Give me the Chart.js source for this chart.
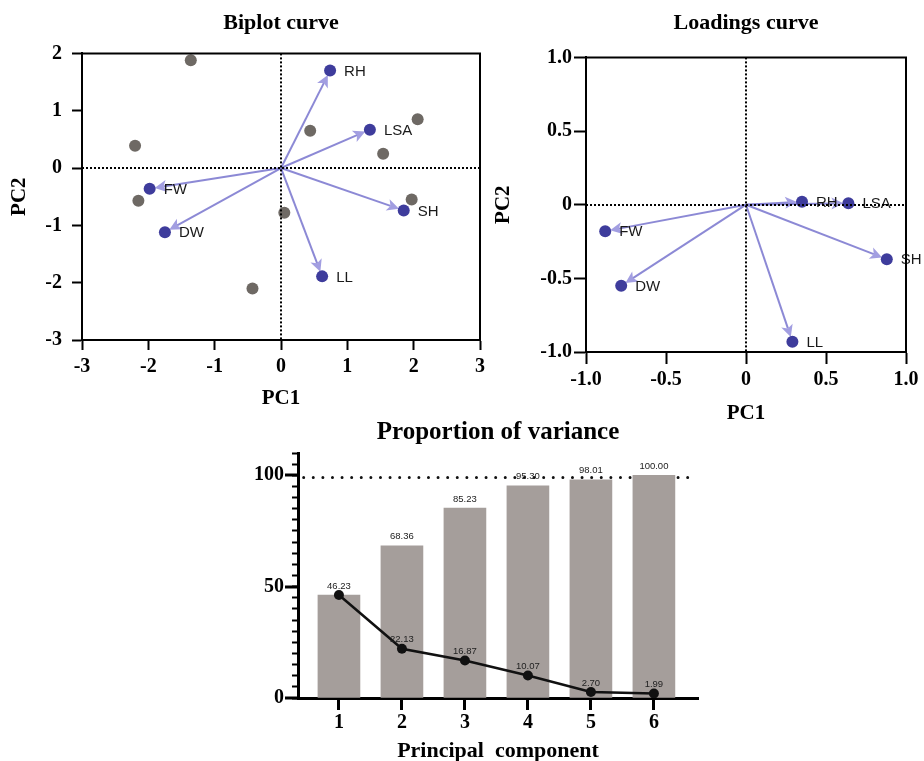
<!DOCTYPE html>
<html><head><meta charset="utf-8">
<script src="https://cdn.jsdelivr.net/npm/chart.js@4.4.0/dist/chart.umd.min.js"></script>
<style>
html,body{margin:0;padding:0;background:#fff;width:924px;height:761px;overflow:hidden;}
canvas{position:absolute;}
</style></head><body>
<canvas id="biplot" width="500" height="420" style="left:0px;top:0px;width:500px;height:420px"></canvas>
<canvas id="loadings" width="439" height="430" style="left:485px;top:0px;width:439px;height:430px"></canvas>
<canvas id="variance" width="480" height="351" style="left:240px;top:410px;width:480px;height:351px"></canvas>
<script>
// ---------- data ----------
const variables = ['RH', 'LSA', 'FW', 'DW', 'SH', 'LL'];
const biplotVarPC1 = [0.74, 1.34, -1.98, -1.75, 1.85, 0.62];
const biplotVarPC2 = [1.70, 0.67, -0.36, -1.12, -0.74, -1.89];
const scoresPC1 = [-1.36, -2.20, -2.15, 0.44, 0.05, -0.43, 2.06, 1.54, 1.97];
const scoresPC2 = [1.88, 0.39, -0.57, 0.65, -0.78, -2.10, 0.85, 0.25, -0.55];
const loadPC1 = [0.35, 0.64, -0.88, -0.78, 0.88, 0.29];
const loadPC2 = [0.02, 0.01, -0.18, -0.55, -0.37, -0.93];
const components = [1, 2, 3, 4, 5, 6];
const cumulative = [46.23, 68.36, 85.23, 95.30, 98.01, 100.00];
const proportion = [46.23, 22.13, 16.87, 10.07, 2.70, 1.99];
const thresholdX = [0.44, 6.6];
const thresholdY = 99;
const biplotTicksX = [-3, -2, -1, 0, 1, 2, 3];
const biplotTicksY = [-3, -2, -1, 0, 1, 2];
const loadTicks = [-1.0, -0.5, 0, 0.5, 1.0];
const varMajorTicks = [0, 50, 100];

const SERIF = "'Liberation Serif', 'Times New Roman', serif";
const SANS = "'Liberation Sans', Arial, sans-serif";
const BLUE = '#3e3c9c';
const GRAY = '#6e6964';

function pts(xs, ys) { return xs.map((v, i) => ({x: v, y: ys[i]})); }
function fixSize(prop, val) {
  return s => { s[prop] = val; s.paddingLeft = 0; s.paddingRight = 0; s.paddingTop = 0; s.paddingBottom = 0; };
}
function setTicks(list) { return s => { s.ticks = list.map(v => ({value: v})); }; }

// ---------- PCA plugin (arrows, labels, frame, zero lines) ----------
const pcaPlugin = {
  id: 'pca',
  beforeDatasetsDraw(chart, args, opts) {
    const {ctx, scales: {x, y}} = chart;
    const ox = x.getPixelForValue(0), oy = y.getPixelForValue(0);
    const ds = chart.data.datasets[opts.arrowDataset];
    ctx.save();
    ds.data.forEach(p => {
      const px = x.getPixelForValue(p.x), py = y.getPixelForValue(p.y);
      const dx = px - ox, dy = py - oy, len = Math.hypot(dx, dy);
      const ux = dx / len, uy = dy / len;
      const tipx = px - ux * 5, tipy = py - uy * 5;
      const hl = 12, hw = 6;
      const bx = tipx - ux * hl, by = tipy - uy * hl;
      ctx.strokeStyle = 'rgba(128,124,208,0.9)';
      ctx.lineWidth = 2;
      ctx.beginPath(); ctx.moveTo(ox, oy); ctx.lineTo(bx + ux * 3, by + uy * 3); ctx.stroke();
      ctx.fillStyle = 'rgba(152,148,222,0.9)';
      ctx.beginPath();
      ctx.moveTo(tipx, tipy);
      ctx.lineTo(bx - uy * hw, by + ux * hw);
      ctx.lineTo(bx + ux * 3, by + uy * 3);
      ctx.lineTo(bx + uy * hw, by - ux * hw);
      ctx.closePath(); ctx.fill();
    });
    ctx.restore();
  },
  afterDatasetsDraw(chart, args, opts) {
    const {ctx, chartArea: a, scales: {x, y}} = chart;
    const ds = chart.data.datasets[opts.arrowDataset];
    ctx.save();
    ctx.font = '15px ' + SANS;
    ctx.fillStyle = '#1a1a1a';
    ctx.textAlign = 'left';
    ctx.textBaseline = 'middle';
    ds.data.forEach((p, i) => {
      ctx.fillText(variables[i], x.getPixelForValue(p.x) + 14, y.getPixelForValue(p.y) + 1);
    });
    // zero lines
    ctx.strokeStyle = '#000';
    ctx.lineWidth = 2;
    ctx.setLineDash([2, 2]);
    const zx = Math.round(x.getPixelForValue(0)), zy = Math.round(y.getPixelForValue(0));
    ctx.beginPath(); ctx.moveTo(zx, a.top); ctx.lineTo(zx, a.bottom); ctx.stroke();
    ctx.beginPath(); ctx.moveTo(a.left, zy); ctx.lineTo(a.right, zy); ctx.stroke();
    ctx.setLineDash([]);
    // frame top & right
    ctx.lineWidth = 2;
    ctx.beginPath(); ctx.moveTo(a.left - 1, a.top); ctx.lineTo(a.right, a.top); ctx.lineTo(a.right, a.bottom + 1); ctx.stroke();
    ctx.restore();
  }
};

function axisCommon(tickLen, pad, size, cb) {
  return {
    grid: {drawOnChartArea: false, drawTicks: true, offset: false, tickLength: tickLen, tickColor: '#000', tickWidth: 2},
    border: {display: true, color: '#000', width: 2},
    ticks: {color: '#000', padding: pad, font: {family: SERIF, size: size, weight: 'bold'}, callback: cb}
  };
}

// ---------- Biplot ----------
(function () {
  const X = axisCommon(10, 5, 20, v => String(v));
  const Y = axisCommon(10, 10, 20, v => String(v));
  new Chart(document.getElementById('biplot'), {
    type: 'scatter',
    data: {datasets: [
      {data: pts(scoresPC1, scoresPC2), backgroundColor: GRAY, borderWidth: 0, pointRadius: 6, pointHoverRadius: 6},
      {data: pts(biplotVarPC1, biplotVarPC2), backgroundColor: BLUE, borderWidth: 0, pointRadius: 6, pointHoverRadius: 6}
    ]},
    options: {
      responsive: false, animation: false, devicePixelRatio: 1,
      layout: {padding: {left: 0, right: 20, top: 0, bottom: 0}},
      plugins: {
        legend: {display: false}, tooltip: {enabled: false},
        title: {display: true, text: 'Biplot curve', fullSize: false, color: '#000',
          font: {family: SERIF, size: 22, weight: 'bold'}, padding: {top: 10, bottom: 17}},
        pca: {arrowDataset: 1}
      },
      scales: {
        x: Object.assign(X, {type: 'linear', min: -3, max: 3,
          afterBuildTicks: setTicks(biplotTicksX), afterFit: fixSize('height', 80),
          title: {display: true, text: 'PC1', color: '#000', font: {family: SERIF, size: 21, weight: 'bold'}, padding: {top: 0, bottom: 9}}}),
        y: Object.assign(Y, {type: 'linear', min: -3, max: 2,
          afterBuildTicks: setTicks(biplotTicksY), afterFit: fixSize('width', 82),
          title: {display: true, text: 'PC2', color: '#000', font: {family: SERIF, size: 21, weight: 'bold'}, padding: {top: 7, bottom: 0}}})
      }
    },
    plugins: [pcaPlugin]
  });
})();

// ---------- Loadings ----------
(function () {
  const fmt = v => (v === 0 ? '0' : v.toFixed(1));
  const X = axisCommon(12, 4, 20, fmt);
  const Y = axisCommon(12, 2, 20, fmt);
  new Chart(document.getElementById('loadings'), {
    type: 'scatter',
    data: {datasets: [
      {data: pts(loadPC1, loadPC2), backgroundColor: BLUE, borderWidth: 0, pointRadius: 6, pointHoverRadius: 6}
    ]},
    options: {
      responsive: false, animation: false, devicePixelRatio: 1,
      layout: {padding: {left: 0, right: 18, top: 0, bottom: 0}},
      plugins: {
        legend: {display: false}, tooltip: {enabled: false},
        title: {display: true, text: 'Loadings curve', fullSize: false, color: '#000',
          font: {family: SERIF, size: 22, weight: 'bold'}, padding: {top: 10, bottom: 21}},
        pca: {arrowDataset: 0}
      },
      scales: {
        x: Object.assign(X, {type: 'linear', min: -1, max: 1,
          afterBuildTicks: setTicks(loadTicks), afterFit: fixSize('height', 78),
          title: {display: true, text: 'PC1', color: '#000', font: {family: SERIF, size: 21, weight: 'bold'}, padding: {top: 0, bottom: 4}}}),
        y: Object.assign(Y, {type: 'linear', min: -1, max: 1,
          afterBuildTicks: setTicks(loadTicks), afterFit: fixSize('width', 101),
          title: {display: true, text: 'PC2', color: '#000', font: {family: SERIF, size: 21, weight: 'bold'}, padding: {top: 6, bottom: 0}}})
      }
    },
    plugins: [pcaPlugin]
  });
})();

// ---------- Proportion of variance ----------
const variancePlugin = {
  id: 'varianceDeco',
  afterDatasetsDraw(chart) {
    const {ctx} = chart;
    ctx.save();
    ctx.font = '9.5px ' + SANS;
    ctx.fillStyle = '#222';
    ctx.textAlign = 'center';
    ctx.textBaseline = 'middle';
    const barMeta = chart.getDatasetMeta(1);
    barMeta.data.forEach((el, i) => ctx.fillText(cumulative[i].toFixed(2), el.x, el.y - 9));
    const lineMeta = chart.getDatasetMeta(2);
    lineMeta.data.forEach((el, i) => {
      if (proportion[i] !== cumulative[i]) ctx.fillText(proportion[i].toFixed(2), el.x, el.y - 9);
    });
    ctx.restore();
  },
  afterDraw(chart) {
    const {ctx, chartArea: a, scales: {y}} = chart;
    ctx.save();
    ctx.strokeStyle = '#000';
    ctx.lineWidth = 3;
    varMajorTicks.forEach(v => {
      const py = Math.round(y.getPixelForValue(v));
      ctx.beginPath(); ctx.moveTo(a.left - 13, py); ctx.lineTo(a.left, py); ctx.stroke();
    });
    ctx.restore();
  }
};

(function () {
  const X = axisCommon(12, 1, 20, v => String(v));
  X.grid.tickWidth = 3; X.border.width = 3;
  const Y = axisCommon(6, 8, 20, v => (v % 50 === 0 ? String(v) : ''));
  Y.border.width = 3;
  new Chart(document.getElementById('variance'), {
    type: 'bar',
    data: {datasets: [
      {type: 'line', data: thresholdX.map(v => ({x: v, y: thresholdY})), borderColor: '#111', borderWidth: 3,
        borderDash: [0, 9.6], borderCapStyle: 'round', pointRadius: 0, fill: false, order: 3},
      {type: 'bar', data: pts(components, cumulative), backgroundColor: '#a59e9b', borderWidth: 0,
        barThickness: 42, order: 2},
      {type: 'line', data: pts(components, proportion), borderColor: '#111', borderWidth: 2.5,
        pointRadius: 5, pointHoverRadius: 5, pointBackgroundColor: '#111', pointBorderWidth: 0, fill: false, order: 1}
    ]},
    options: {
      responsive: false, animation: false, devicePixelRatio: 1,
      layout: {padding: {left: 0, right: 22, top: 0, bottom: 0}},
      plugins: {
        legend: {display: false}, tooltip: {enabled: false},
        title: {display: true, text: 'Proportion of variance', fullSize: false, color: '#000',
          font: {family: SERIF, size: 25, weight: 'bold'}, padding: {top: 8, bottom: 5}}
      },
      scales: {
        x: Object.assign(X, {type: 'linear', min: 0.35, max: 6.7, offset: false,
          afterBuildTicks: setTicks(components), afterFit: fixSize('height', 63),
          title: {display: true, text: 'Principal  component', color: '#000', font: {family: SERIF, size: 22, weight: 'bold'}, padding: {top: 0, bottom: -4}}}),
        y: Object.assign(Y, {type: 'linear', min: 0, max: 110,
          ticks: Object.assign(Y.ticks, {stepSize: 5, autoSkip: false}),
          afterFit: fixSize('width', 58)})
      }
    },
    plugins: [variancePlugin]
  });
})();
</script>
</body></html>
